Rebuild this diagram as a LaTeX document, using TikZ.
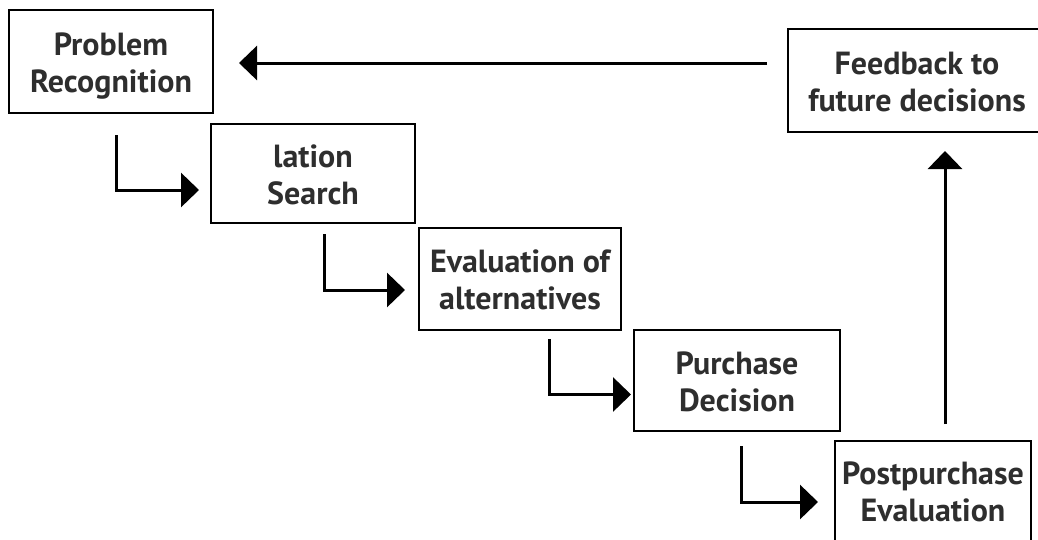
\documentclass[tikz,border=0pt]{standalone}
\usepackage{fontspec}
\setmainfont{PT Sans}
\usetikzlibrary{arrows.meta,calc}
\begin{document}
\begin{tikzpicture}[x=1pt,y=-1pt,
  stage/.style={draw=black, line width=2pt, rectangle, align=center, inner sep=0pt,
    font=\fontsize{32}{37}\selectfont\bfseries, text=black!82,
    text height=62pt, text depth=1pt},
  flow/.style={line width=3pt, -{Triangle[length=18pt,width=34pt]}}]
\useasboundingbox (0,0) rectangle (1038,539);
\clip (0,0) rectangle (1038,539);

% decision stages
\node[stage, minimum width=204pt, minimum height=103pt] (pr) at (111,61.5) {Problem\\Recognition};
\node[stage, minimum width=204pt, minimum height=99pt] (ls) at (313,173.5) {lation\\Search};
\node[stage, minimum width=202pt, minimum height=102pt] (ea) at (520,279) {Evaluation of\\alternatives};
\node[stage, minimum width=206pt, minimum height=101pt] (pd) at (737,380.5) {Purchase\\Decision};
\node[stage, minimum width=196pt, minimum height=100pt] (pe) at (933,491) {Postpurchase\\Evaluation};
\node[stage, minimum width=258pt, minimum height=103pt] (fb) at (917,80.5) {Feedback to\\future decisions};

% stepwise connectors
\draw[flow] ($(pr.south west)+(108,21)$) |- ($(ls.west)+(-11,16.5)$);
\draw[flow] ($(ls.south west)+(114,10)$) |- ($(ea.west)+(-13,11)$);
\draw[flow] ($(ea.south west)+(131,8)$) |- ($(pd.west)+(-2,14)$);
\draw[flow] ($(pd.south west)+(108,14)$) |- ($(pe.west)+(-16,11)$);

% feedback loop
\draw[flow] ($(pe.north)+(12,-16)$) -- ($(fb.south)+(28,18)$);
\draw[flow] ($(fb.west)+(-20,-17.5)$) -- ($(pr.east)+(25,1.5)$);
\end{tikzpicture}
\end{document}
